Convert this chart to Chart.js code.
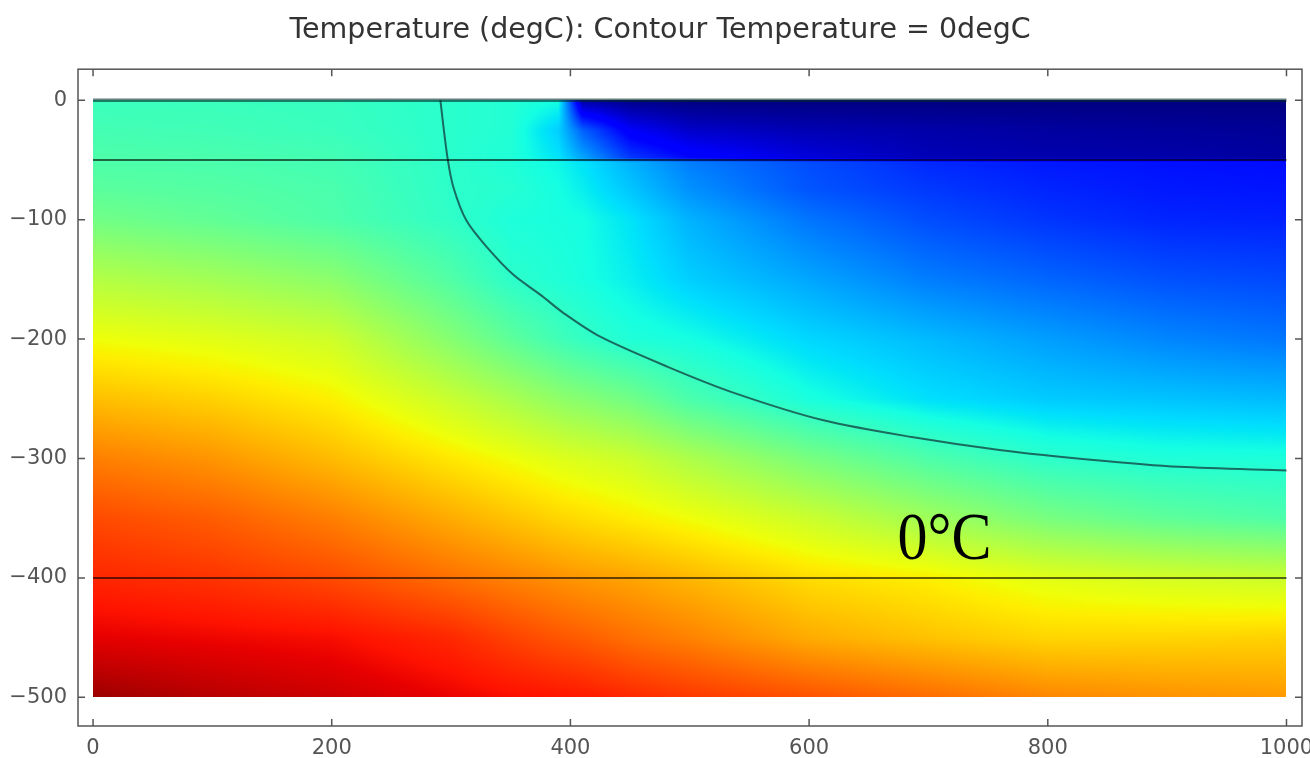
<!DOCTYPE html>
<html>
<head>
<meta charset="utf-8">
<title>Temperature contour</title>
<script src="https://cdn.jsdelivr.net/npm/chart.js@4.4.1/dist/chart.umd.min.js"></script>
<style>
  html, body { margin: 0; padding: 0; background: #fff; }
  canvas { display: block; }
</style>
</head>
<body>
<canvas id="tempChart" width="1310" height="758"></canvas>
<script>
// Grid of temperatures (degC)
const xNodes = [0, 100, 200, 300, 350, 390, 410, 450, 500, 600, 700, 800, 900, 1000];
const depthNodes = [0, -25, -48, -52, -75, -100, -150, -200, -250, -300, -350, -400, -450, -500];

const tAt0   = [0.5, 0.5, 0.4, 0.0, -0.2, -0.6, -9.2, -9.8, -10, -10, -10, -10, -10, -10];
const tAt25  = [0.8, 0.7, 0.5, 0.0, -0.2, -1.8, -4.5, -7.3, -8.4, -8.9, -9.1, -9.3, -9.4, -9.5];
const tAt48  = [1.1, 1.0, 0.8, 0.0, -0.3, -1.3, -2.8, -5.5, -6.8, -8.0, -8.8, -9.0, -9.1, -9.3];
const tAt52  = [1.1, 1.0, 0.8, 0.1, -0.3, -0.8, -1.3, -2.5, -3.8, -5.0, -5.9, -6.3, -6.5, -6.6];
const tAt75  = [1.5, 1.3, 1.0, 0.1, -0.1, -0.6, -1.0, -2.0, -3.3, -4.8, -5.5, -6.0, -6.3, -6.4];
const tAt100 = [2.2, 1.7, 1.1, 0.2, -0.4, -0.5, -0.6, -1.3, -2.5, -4.0, -5.0, -5.6, -6.0, -6.1];
const tAt150 = [4.2, 3.7, 3.0, 1.2, 0.1, -0.3, -0.5, -1.0, -1.8, -2.8, -3.8, -4.4, -4.9, -5.1];
const tAt200 = [6.0, 5.6, 5.0, 2.8, 1.6, 0.7, 0.3, -0.3, -0.6, -1.6, -2.3, -3.0, -3.6, -4.0];
const tAt250 = [7.7, 7.2, 6.4, 4.8, 3.9, 3.1, 2.8, 2.2, 1.0, -0.5, -1.4, -1.9, -2.1, -2.3];
const tAt300 = [9.4, 8.8, 7.8, 6.6, 6.0, 5.5, 5.3, 4.9, 4.0, 2.4, 1.1, 0.1, -0.3, -0.4];
const tAt350 = [10.8, 10.3, 9.4, 8.2, 7.6, 7.1, 6.9, 6.5, 6.0, 4.9, 3.6, 2.4, 1.6, 1.1];
const tAt400 = [11.75, 11.4, 10.8, 9.8, 9.3, 8.9, 8.7, 8.4, 7.9, 6.9, 6.4, 5.6, 5.2, 4.9];
const tAt450 = [12.8, 12.6, 12.4, 11.7, 11.0, 10.5, 10.3, 9.8, 9.3, 8.2, 7.6, 7.1, 7.1, 7.2];
const tAt500 = [14.4, 13.8, 13.35, 12.7, 12.4, 12.2, 12.1, 11.7, 11.3, 10.6, 9.9, 9.2, 8.9, 8.7];
const tempGrid = [tAt0, tAt25, tAt48, tAt52, tAt75, tAt100, tAt150, tAt200, tAt250, tAt300, tAt350, tAt400, tAt450, tAt500];

// colour range of the map
const tMin = -10;
const tMax = 15;

// 0 degC contour line
const contourX = [291, 297, 302, 313, 330, 352, 375, 394, 425, 481, 537, 612, 686, 761, 836, 910, 1000];
const contourY = [0, -48, -73, -101, -123, -146, -163, -178, -198, -223, -245, -268, -282, -293, -301, -307, -310];

// layer boundaries and domain extent
const layerDepths = [0, -50, -400];
const domainX = [0, 1000];

// axis ticks
const xTicks = [0, 200, 400, 600, 800, 1000];
const yTicks = [0, -100, -200, -300, -400, -500];

// two no-break spaces nudge the centred title a little to the right
const titleText = '\u00a0\u00a0Temperature (degC): Contour Temperature = 0degC';
const labelText = '0°C';

// matplotlib "jet"
const JET_R = [[0, 0], [0.35, 0], [0.66, 1], [0.89, 1], [1, 0.5]];
const JET_G = [[0, 0], [0.125, 0], [0.375, 1], [0.64, 1], [0.91, 0], [1, 0]];
const JET_B = [[0, 0.5], [0.11, 1], [0.34, 1], [0.65, 0], [1, 0]];

function piece(pts, v) {
  for (let i = 1; i < pts.length; i++) {
    if (v <= pts[i][0]) {
      const [x0, y0] = pts[i - 1], [x1, y1] = pts[i];
      return y0 + (y1 - y0) * (v - x0) / (x1 - x0);
    }
  }
  return pts[pts.length - 1][1];
}

function jet(t) {
  const v = Math.min(1, Math.max(0, (t - tMin) / (tMax - tMin)));
  return [piece(JET_R, v), piece(JET_G, v), piece(JET_B, v)].map(c => Math.round(c * 255));
}

function locate(nodes, v) {
  for (let i = 0; i < nodes.length - 1; i++) {
    const a = nodes[i], b = nodes[i + 1];
    if (v >= Math.min(a, b) && v <= Math.max(a, b)) return [i, (v - a) / (b - a)];
  }
  return [nodes.length - 2, 1];
}

function sampleTemp(x, y) {
  const [i, fx] = locate(xNodes, x);
  const [j, fy] = locate(depthNodes, y);
  const a = tempGrid[j][i], b = tempGrid[j][i + 1];
  const c = tempGrid[j + 1][i], d = tempGrid[j + 1][i + 1];
  const top = a + (b - a) * fx;
  const bot = c + (d - c) * fx;
  return top + (bot - top) * fy;
}

// draws the temperature field under the lines
const heatField = {
  id: 'heatField',
  beforeDatasetsDraw(chart) {
    const xs = chart.scales.x, ys = chart.scales.y;
    const x0 = Math.round(xs.getPixelForValue(domainX[0]));
    const x1 = Math.round(xs.getPixelForValue(domainX[1]));
    const y0 = Math.round(ys.getPixelForValue(depthNodes[0]));
    const y1 = Math.round(ys.getPixelForValue(depthNodes[depthNodes.length - 1]));
    const w = x1 - x0, h = y1 - y0;
    const off = document.createElement('canvas');
    off.width = w; off.height = h;
    const octx = off.getContext('2d');
    const img = octx.createImageData(w, h);
    for (let py = 0; py < h; py++) {
      const yv = ys.getValueForPixel(y0 + py + 0.5);
      for (let px = 0; px < w; px++) {
        const xv = xs.getValueForPixel(x0 + px + 0.5);
        const [r, g, b] = jet(sampleTemp(xv, yv));
        const k = (py * w + px) * 4;
        img.data[k] = r; img.data[k + 1] = g; img.data[k + 2] = b; img.data[k + 3] = 255;
      }
    }
    octx.putImageData(img, 0, 0);
    chart.ctx.drawImage(off, x0, y0);
  }
};

// frame, inward ticks and the 0°C label
const frameAndLabel = {
  id: 'frameAndLabel',
  afterDraw(chart) {
    const ctx = chart.ctx;
    const a = chart.chartArea;
    const xs = chart.scales.x, ys = chart.scales.y;
    ctx.save();
    ctx.strokeStyle = '#555';
    ctx.lineWidth = 1.5;
    ctx.strokeRect(a.left, a.top, a.right - a.left, a.bottom - a.top);
    ctx.beginPath();
    xTicks.forEach(v => {
      const p = xs.getPixelForValue(v);
      ctx.moveTo(p, a.top); ctx.lineTo(p, a.top + 7);
      ctx.moveTo(p, a.bottom); ctx.lineTo(p, a.bottom - 7);
    });
    yTicks.forEach(v => {
      const p = ys.getPixelForValue(v);
      ctx.moveTo(a.left, p); ctx.lineTo(a.left + 7, p);
      ctx.moveTo(a.right, p); ctx.lineTo(a.right - 7, p);
    });
    ctx.stroke();

    // label, set in a narrow serif
    const lx = xs.getPixelForValue(674);
    const ly = ys.getPixelForValue(-384);
    ctx.font = '68px "Liberation Serif", "DejaVu Serif", serif';
    ctx.fillStyle = '#000';
    ctx.textBaseline = 'alphabetic';
    const wText = ctx.measureText(labelText).width;
    ctx.translate(lx, ly);
    ctx.scale(94 / wText, 1);
    ctx.fillText(labelText, 0, 0);
    ctx.restore();
  }
};

const lineDatasets = layerDepths.map(d => ({
  data: domainX.map(x => ({ x: x, y: d })),
  showLine: true,
  pointRadius: 0,
  borderColor: d === 0 ? 'rgba(0, 40, 40, 0.6)' : 'rgba(0, 0, 0, 0.6)',
  borderWidth: d === 0 ? 3.5 : 2
}));

const contourDataset = {
  data: contourX.map((x, i) => ({ x: x, y: contourY[i] })),
  showLine: true,
  pointRadius: 0,
  borderColor: 'rgba(20, 70, 70, 0.8)',
  borderWidth: 2,
  tension: 0.3
};

const tickFont = { family: '"DejaVu Sans", sans-serif', size: 21 };
const minusSign = v => String(v).replace('-', '\u2212');

new Chart(document.getElementById('tempChart').getContext('2d'), {
  type: 'scatter',
  data: { datasets: [...lineDatasets, contourDataset] },
  options: {
    responsive: false,
    animation: false,
    events: [],
    layout: { autoPadding: false, padding: { left: 0, right: 8, top: 0, bottom: 0 } },
    plugins: {
      legend: { display: false },
      tooltip: { enabled: false },
      title: {
        display: true,
        text: titleText,
        color: '#333',
        font: { family: '"DejaVu Sans", sans-serif', size: 28.5, weight: 'normal' },
        padding: { top: 13, bottom: 22 }
      }
    },
    scales: {
      x: {
        type: 'linear',
        min: -12.6,
        max: 1013,
        grid: { display: false },
        border: { display: false },
        ticks: { color: '#555', font: tickFont, padding: 2, callback: minusSign },
        afterBuildTicks: s => { s.ticks = xTicks.map(v => ({ value: v })); },
        afterFit: s => { s.height = 32; s.paddingLeft = 0; s.paddingRight = 0; }
      },
      y: {
        type: 'linear',
        min: -524,
        max: 26,
        grid: { display: false },
        border: { display: false },
        ticks: { color: '#555', font: tickFont, padding: 3, callback: minusSign },
        afterBuildTicks: s => { s.ticks = yTicks.map(v => ({ value: v })); },
        afterFit: s => { s.width = 78; s.paddingTop = 0; s.paddingBottom = 0; }
      }
    }
  },
  plugins: [heatField, frameAndLabel]
});
</script>
</body>
</html>
